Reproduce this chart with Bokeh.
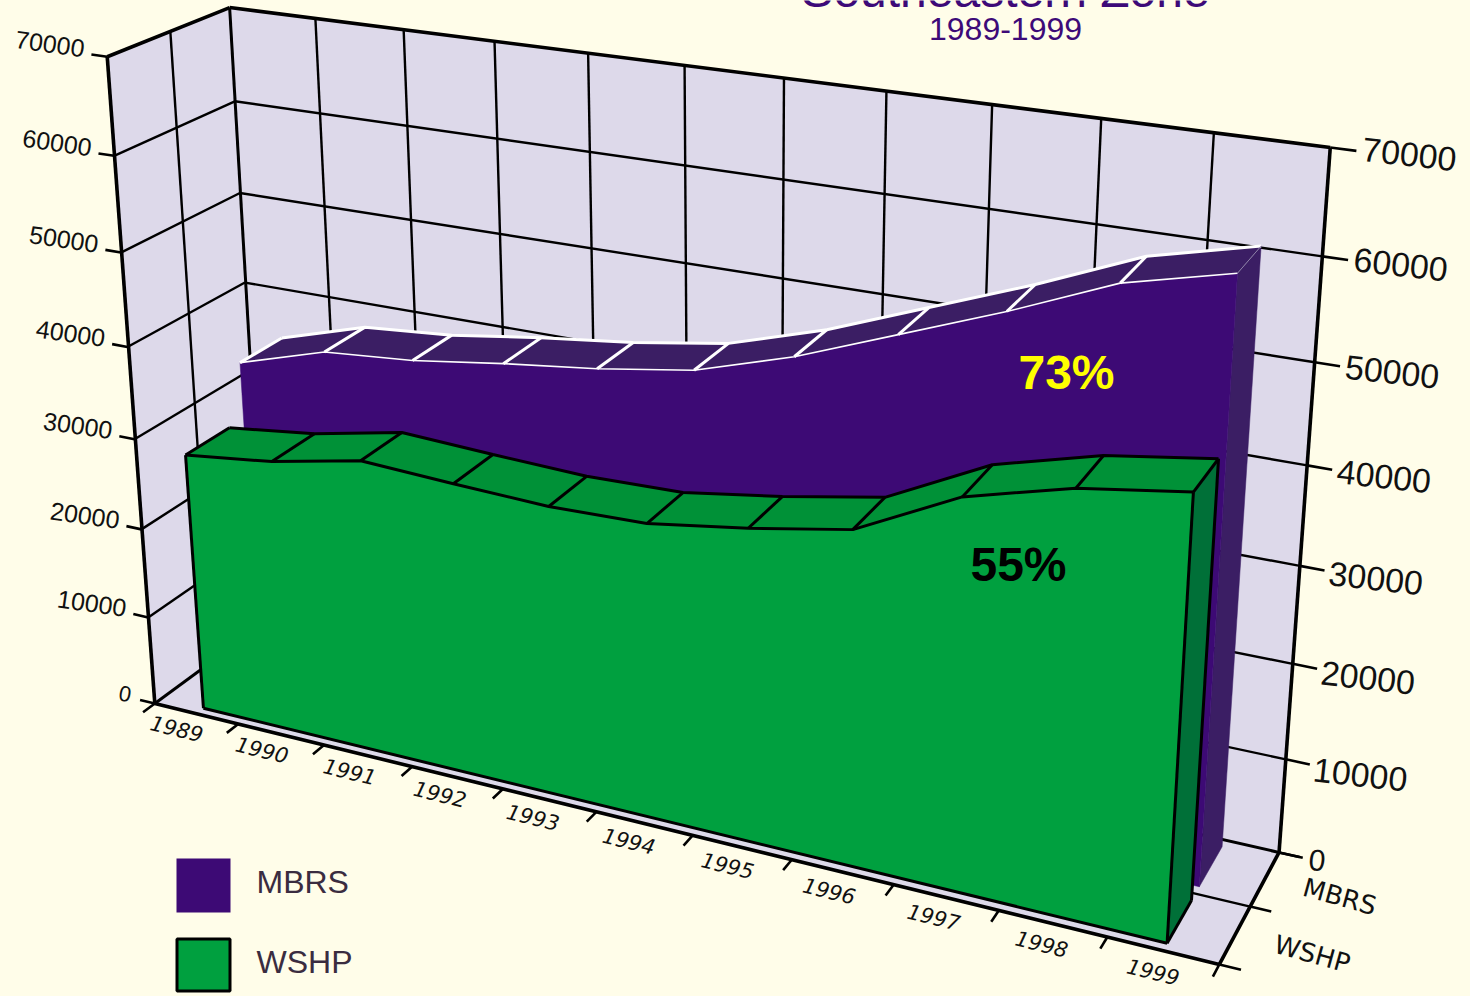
import numpy as np
from bokeh.plotting import figure
from bokeh.embed import file_html
from bokeh.resources import INLINE
from bokeh.core.properties import value

years = [1989,1990,1991,1992,1993,1994,1995,1996,1997,1998,1999]
wshp = [28700,29900,31900,31400,31000,31250,32800,34700,39900,42700,44300]
mbrs = [35000,37900,38700,40100,41300,42900,46000,49900,53800,58100,60600]
ticks = [0,10000,20000,30000,40000,50000,60000,70000]
series_names = ["MBRS","WSHP"]
title = "Southeastern Zone"
subtitle = "1989-1999"
share_mbrs = "73%"
share_wshp = "55%"

BG="#FFFDE9"; WALL="#DDD9EA"; PURPLE="#3D0A75"; PURPLE_TOP="#3B1E64"
GREEN="#00A03F"; GREEN_TOP="#009137"; GREEN_SIDE="#007038"; TITLE_C="#3D0A78"; LEG_T="#3A2C40"
FONT=value("Liberation Sans")

# camera of the 3D box: u = category axis, v = value, d = depth
CAM=np.array([[0.0797793,-0.0580886/70000,0.125946,0.156797],
              [0.0104554,-0.65123/70000,-0.044927,0.703063],
              [-0.0137591,-0.078626/70000,0.058871,1.0]])
def pr(u,v,d):
    h=CAM@np.array([u,v,d,1.0]); x,y=h[0]/h[2]*1000,h[1]/h[2]*1000
    # small lens correction towards the left of the picture
    x-=2.5*np.clip(1-(x-150)/600,0,1)*np.clip(y/350,0,1)
    return x,y
def poly(pts):
    q=[pr(*a) for a in pts]; return [a[0] for a in q],[a[1] for a in q]

p=figure(width=1470,height=996,x_range=(0,1470),y_range=(996,0),toolbar_location=None,
         output_backend="svg",min_border=0,background_fill_color=BG,border_fill_color=BG,outline_line_color=None)
p.axis.visible=False; p.grid.visible=False
N=len(years); TOP=ticks[-1]

def face(pts,fill):
    x,y=poly(pts)
    p.patch(x,y,fill_color=fill,line_color=fill,line_width=0.5)
def seg(a,b,c="#000000",lw=2.4):
    x,y=poly([a,b]); p.line(x,y,line_color=c,line_width=lw)

# walls and floor
face([(0,0,0),(N,0,0),(N,0,1),(0,0,1)],WALL)
face([(0,0,0),(0,TOP,0),(0,TOP,1),(0,0,1)],WALL)
face([(0,0,1),(0,TOP,1),(N,TOP,1),(N,0,1)],WALL)
# gridlines
for t in ticks[1:-1]:
    seg((0,t,0),(0,t,1)); seg((0,t,1),(N,t,1))
for i in range(1,N):
    seg((i,0,1),(i,TOP,1))
seg((0,0,.5),(0,TOP,.5))
seg((0,0,.5),(N,0,.5)); seg((0,0,1),(N,0,1),lw=3)
seg((0,0,0),(0,0,1),lw=3)
seg((0,0,1),(0,TOP,1),lw=3)
# box frame
seg((0,0,0),(0,TOP,0),lw=3.6); seg((0,TOP,0),(0,TOP,1),lw=3.6); seg((0,TOP,1),(N,TOP,1),lw=3.6)
seg((N,TOP,1),(N,0,1),lw=3.6); seg((N,0,1),(N,0,0),lw=3.6); seg((N,0,0),(0,0,0),lw=3.6)

# ticks
for t in ticks:
    seg((-.18,t,0),(0,t,0),lw=2.6); seg((N,t,1),(N+.22,t,1),lw=2.6)
for i in range(N+1):
    seg((i,0,-.1),(i,0,0),lw=2.6)
for d in (0,.5,1):
    seg((N,0,d),(N+.19,0,d),lw=2.6)

def area(vals,d0,d1,front,top,side,edge,lw_front,lw_back,last_c,last_w):
    us=[i+.5 for i in range(N)]
    e=us[-1]
    face([(e,vals[-1],d0),(e,vals[-1],d1),(e,0,d1),(e,0,d0)],side)
    for i in range(N-1):
        face([(us[i],vals[i],d0),(us[i+1],vals[i+1],d0),(us[i+1],vals[i+1],d1),(us[i],vals[i],d1)],top)
    pts=[(u,v,d0) for u,v in zip(us,vals)]+[(e,0,d0),(us[0],0,d0)]
    face(pts,front)
    xb,yb=poly([(u,v,d1) for u,v in zip(us,vals)]); p.line(xb,yb,line_color=edge,line_width=lw_back)
    xf,yf=poly([(u,v,d0) for u,v in zip(us,vals)]); p.line(xf,yf,line_color=edge,line_width=lw_front)
    for i in range(N):
        last=i==N-1
        seg((us[i],vals[i],d0),(us[i],vals[i],d1),c=last_c if last else edge,lw=last_w if last else lw_back)

area(mbrs,.5625,.9375,PURPLE,PURPLE_TOP,PURPLE_TOP,"#FFFFFF",1.6,3,"#8F83A8",1)
area(wshp,.0625,.4375,GREEN,GREEN_TOP,GREEN_SIDE,"#000000",3,3,"#000000",3)
# green outline
us0,us1=.5,N-.5
seg((us0,wshp[0],.0625),(us0,0,.0625),lw=3); seg((us0,0,.0625),(us1,0,.0625),lw=3)
seg((us1,0,.0625),(us1,wshp[-1],.0625),lw=3)
seg((us1,wshp[-1],.4375),(us1,0,.4375),lw=3); seg((us1,0,.4375),(us1,0,.0625),lw=3)

def label(x,y,t,size,color="#111111",angle=0,bold=False,italic=False,font=FONT,align="center"):
    p.text([x],[y],text=[t],text_font=font,text_font_size=size,text_color=color,angle=angle,
           text_align=align,text_baseline="middle",
           text_font_style="bold" if bold else ("italic" if italic else "normal"))

# titles (the top of the title is cut by the edge of the picture, as in the reference)
label(1005,-10,title,"48px",TITLE_C)
label(1005,28,subtitle,"32px",TITLE_C)
label(1066,372,share_mbrs,"48px","#FFFF00",bold=True)
label(1018,564,share_wshp,"48px","#000000",bold=True)

# value labels
for t in ticks:
    x,y=pr(-.18,t,0)
    if t==0:
        label(x-15,y-6,str(t),"22px",angle=-.17)
    else:
        label(x-7,y-6,str(t),"25px",align="right",angle=-.14)
    x,y=pr(N+.22,t,1)
    f=t/TOP
    if t==0:
        label(x+6,y+2,str(t),"30px",align="left",angle=-.1)
    else:
        label(x+3+3*f,y+6.5-8*f,str(t),"34px",align="left",angle=-.11)
# category labels
for i,yr in enumerate(years):
    x,y=pr(i+.5,0,-.2)
    label(x+4,y-3,str(yr),"21px",angle=-.24,italic=True,font=value("DejaVu Sans"))
for nm,d in zip(series_names,(.75,.25)):
    x,y=pr(N+.69,0,d)
    label(x-1,y,nm,"26px",angle=-.27,font=value("DejaVu Sans"))

# legend
p.quad(left=[176],right=[230],top=[858],bottom=[912],fill_color=PURPLE,line_color=None)
p.quad(left=[176.5],right=[229.5],top=[938.5],bottom=[990.5],fill_color=GREEN,line_color="#000000",line_width=3)
label(256,881,series_names[0],"32px",LEG_T,align="left")
label(256,961,series_names[1],"32px",LEG_T,align="left")

html=file_html(p,INLINE).replace("<body>",'<body style="margin:0;overflow:hidden;background:%s">'%BG)
open("out.html","w").write(html)
